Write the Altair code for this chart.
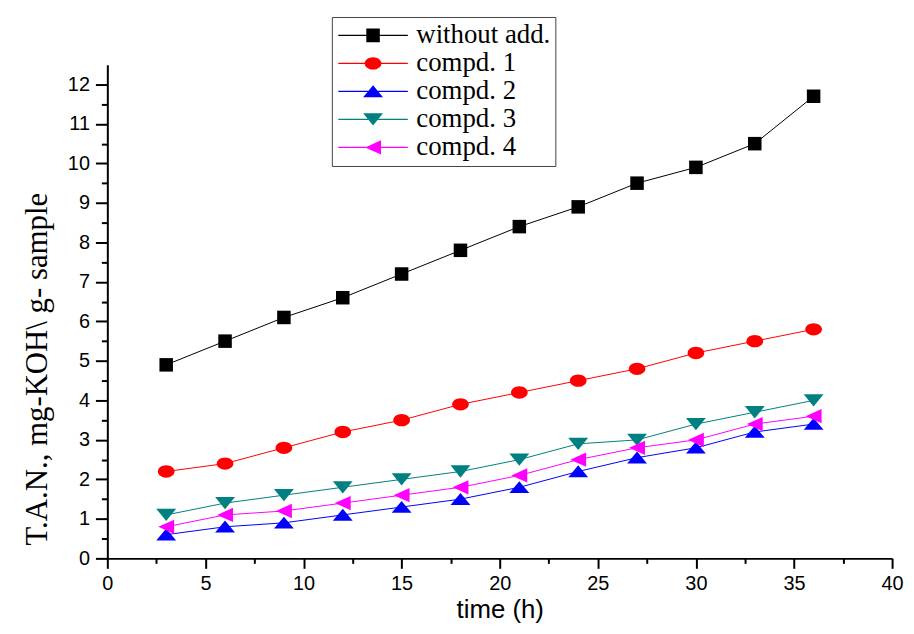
import altair as alt
import pandas as pd

# ---------------- data ----------------
time_h = [3, 6, 9, 12, 15, 18, 21, 24, 27, 30, 33, 36]
without_add = [4.9, 5.5, 6.1, 6.6, 7.2, 7.8, 8.4, 8.9, 9.5, 9.9, 10.5, 11.7]
compd_1 = [2.2, 2.4, 2.8, 3.2, 3.5, 3.9, 4.2, 4.5, 4.8, 5.2, 5.5, 5.8]
compd_2 = [0.6, 0.8, 0.9, 1.1, 1.3, 1.5, 1.8, 2.2, 2.55, 2.8, 3.2, 3.4]
compd_3 = [1.1, 1.4, 1.6, 1.8, 2.0, 2.2, 2.5, 2.9, 3.0, 3.4, 3.7, 4.0]
compd_4 = [0.8, 1.1, 1.2, 1.4, 1.6, 1.8, 2.1, 2.5, 2.8, 3.0, 3.4, 3.6]

series_names = ["without add.", "compd. 1", "compd. 2", "compd. 3", "compd. 4"]
series_values = [without_add, compd_1, compd_2, compd_3, compd_4]
series_colors = ["#000000", "#ff0000", "#0000ff", "#008080", "#ff00ff"]

x_ticks = [i * 2.5 for i in range(17)]      # 0 .. 40 (major every 5)
y_ticks = [i * 0.5 for i in range(25)]      # 0 .. 12 (major every 1)

# ---------------- styling helpers ----------------
marker_paths = [
    "M-0.68,-0.68L0.68,-0.68L0.68,0.68L-0.68,0.68Z",                       # square
    "M-0.84,0A0.84,0.62 0 1,1 0.84,0A0.84,0.62 0 1,1 -0.84,0Z",            # circle
    "M0,-0.62L1,0.58L-1,0.58Z",                                            # triangle up
    "M-1,-0.62L1,-0.62L0,0.62Z",                                           # triangle down
    "M-0.8,0L0.8,-0.72L0.8,0.72Z",                                         # triangle left
]
legend_line = "M-3.5,-0.06L-0.5,-0.06L-0.5,0.06L-3.5,0.06Z M0.5,-0.06L3.5,-0.06L3.5,0.06L0.5,0.06Z "
legend_paths = [legend_line + p for p in marker_paths]

rows = []
for name, vals in zip(series_names, series_values):
    for t, v in zip(time_h, vals):
        rows.append({"time": t, "tan": v, "series": name})
df = pd.DataFrame(rows)

x_enc = alt.X(
    "time:Q",
    scale=alt.Scale(domain=[0, 40], nice=False, zero=False),
    axis=alt.Axis(
        values=x_ticks, format=".0f",
        labelExpr="datum.value % 5 === 0 ? datum.label : ''",
        tickSize={"condition": {"test": "datum.value % 5 !== 0", "value": 5}, "value": 10},
        tickWidth=2, tickColor="black",
        domainWidth=2, domainColor="black",
        labelFont="Liberation Sans", labelFontSize=20, labelColor="black",
        labelPadding=5, labelFlush=False, labelOverlap=False,
        grid=False,
        title="time (h)", titleFont="Liberation Sans", titleFontSize=26,
        titleFontWeight="normal", titleColor="black",
        titleY=52, titleBaseline="middle",
    ),
)
y_enc = alt.Y(
    "tan:Q",
    scale=alt.Scale(domain=[0, 12.5], nice=False, zero=False),
    axis=alt.Axis(
        values=y_ticks, format=".0f",
        labelExpr="datum.value % 1 === 0 ? datum.label : ''",
        tickSize={"condition": {"test": "datum.value % 1 !== 0", "value": 6}, "value": 12},
        tickWidth=2, tickColor="black",
        domainWidth=2, domainColor="black",
        labelFont="Liberation Sans", labelFontSize=20, labelColor="black",
        labelPadding=6, labelFlush=False, labelOverlap=False,
        grid=False,
        title="T.A.N., mg-KOH\\ g- sample", titleFont="Liberation Serif",
        titleFontSize=31, titleFontWeight="normal", titleColor="black",
        titleX=-70, titleY=306, titleAngle=270,
        titleAlign="center", titleBaseline="middle",
    ),
)

legend_props = dict(
    title=None, orient="none", legendX=226, legendY=-48,
    padding=5, strokeColor="#444444", fillColor="white",
    labelFont="Liberation Serif", labelFontSize=27, labelColor="black",
    labelLimit=400,
    symbolSize=400, symbolOffset=23, labelOffset=30,
    symbolStrokeWidth=0, symbolOpacity=1, rowPadding=0.2,
)

base = alt.Chart(df)

line_layers = []
point_layers = []
for name, col, path in zip(series_names, series_colors, marker_paths):
    sub = base.transform_filter(alt.datum.series == name)
    line_layers.append(
        sub.mark_line(strokeWidth=1, color=col).encode(x=x_enc, y=y_enc)
    )
    point_layers.append(
        sub.mark_point(shape=path, filled=True, size=400, color=col,
                       opacity=1, strokeWidth=0)
        .encode(x=x_enc, y=y_enc)
    )

legend_layer = (
    base.transform_filter("datum.time < 0")
    .mark_point(filled=True, size=400, opacity=1, strokeWidth=0)
    .encode(
        x=x_enc, y=y_enc,
        color=alt.Color("series:N",
                        scale=alt.Scale(domain=series_names, range=series_colors),
                        legend=alt.Legend(**legend_props)),
        shape=alt.Shape("series:N",
                        scale=alt.Scale(domain=series_names, range=legend_paths),
                        legend=alt.Legend(**legend_props)),
    )
)

chart = (
    alt.layer(*line_layers, *point_layers, legend_layer)
    .properties(
        width=790, height=497,
        autosize=alt.AutoSizeParams(type="none"),
        padding={"left": 100, "top": 55, "right": 14, "bottom": 64},
        background="white",
    )
    .configure_view(stroke=None)
)

chart.save("out.html", embed_options={"renderer": "svg", "actions": False})
